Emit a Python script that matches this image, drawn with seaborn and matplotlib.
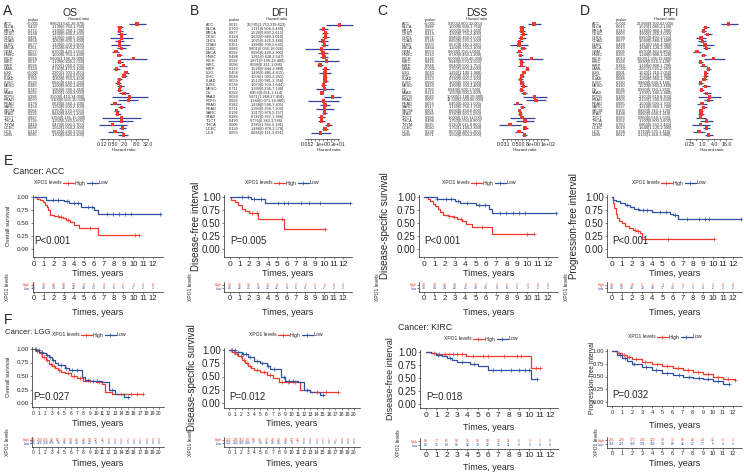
import numpy as np
import pandas as pd
import matplotlib
matplotlib.use("Agg")
import matplotlib.pyplot as plt
import seaborn as sns
from matplotlib import transforms
from matplotlib.lines import Line2D
from matplotlib.ticker import FixedLocator, NullFormatter

sns.set_theme(style="white")
plt.rcParams['font.family'] = ['Liberation Sans', 'DejaVu Sans']

RED = '#ee3a2c'
BLUE = '#2f4fa2'
NAVY = '#34449a'
W, H = 744, 475

# ---------------- forest plot data ----------------
cancers33 = ['ACC', 'BLCA', 'BRCA', 'CESC', 'CHOL', 'COAD', 'DLBC', 'ESCA', 'GBM', 'HNSC', 'KICH',
             'KIRC', 'KIRP', 'LAML', 'LGG', 'LIHC', 'LUAD', 'LUSC', 'MESO', 'OV', 'PAAD', 'PCPG',
             'PRAD', 'READ', 'SARC', 'SKCM', 'STAD', 'TGCT', 'THCA', 'THYM', 'UCEC', 'UCS', 'UVM']
cancers_dfi = ['ACC', 'BLCA', 'BRCA', 'CESC', 'CHOL', 'COAD', 'DLBC', 'ESCA', 'HNSC', 'KICH', 'KIRC',
               'KIRP', 'LGG', 'LIHC', 'LUAD', 'LUSC', 'MESO', 'OV', 'PAAD', 'PCPG', 'PRAD', 'READ',
               'SARC', 'STAD', 'TGCT', 'THCA', 'UCEC', 'UCS']

os_p = ['<0.001', '0.430', '0.372', '0.168', '0.491', '0.854', '0.677', '0.251', '0.077', '0.893', '0.034',
        '0.537', '0.036', '0.124', '<0.001', '0.001', '0.793', '0.529', '0.385', '0.747', '0.032', '0.286',
        '0.070', '0.176', '0.156', '0.061', '0.232', '0.827', '0.739', '0.410', '0.038', '0.210', '0.095']
os_hr = [8.962, 1.130, 1.100, 1.400, 1.400, 1.050, 1.100, 1.350, 0.700, 1.000, 5.600, 1.100, 1.700,
         0.730, 2.300, 1.800, 1.050, 0.920, 1.200, 1.050, 1.800, 3.500, 3.100, 0.620, 1.350, 0.750,
         0.820, 1.350, 1.350, 0.470, 1.550, 0.620, 1.700]
os_lo = [3.541, 0.750, 0.760, 0.800, 0.340, 0.600, 0.370, 0.800, 0.420, 0.750, 1.100, 0.800, 1.050,
         0.470, 1.700, 1.350, 0.750, 0.640, 0.800, 0.760, 1.050, 0.410, 0.930, 0.340, 0.900, 0.570,
         0.600, 0.125, 0.280, 0.090, 1.050, 0.280, 0.920]
os_hi = [26.870, 1.700, 1.700, 2.300, 5.200, 1.800, 3.800, 2.300, 1.050, 1.400, 28.000, 1.550, 2.700,
         1.100, 3.200, 2.500, 1.450, 1.300, 1.800, 1.450, 3.500, 34.000, 10.300, 1.200, 2.100, 1.050,
         1.200, 15.000, 5.600, 2.700, 2.300, 1.550, 3.100]

dfi_p = ['0.015', '0.760', '0.877', '0.124', '0.941', '0.351', '0.886', '0.992', '0.488', '0.592', '0.096',
         '0.113', '0.456', '0.049', '0.059', '0.739', '0.711', '0.222', '0.024', '0.926', '0.382', '0.711',
         '0.192', '0.286', '0.490', '0.005', '0.139', '0.655']
dfi_hr = [20.585, 1.111, 1.528, 1.632, 1.025, 1.398, 0.801, 0.996, 1.261, 1.871, 0.598, 1.526, 1.495,
          1.506, 1.512, 1.073, 1.399, 0.852, 5.871, 1.160, 1.458, 1.393, 1.317, 0.742, 0.776, 2.789,
          1.496, 0.665]
dfi_lo = [1.753, 0.504, 0.893, 0.880, 0.425, 0.708, 0.036, 0.428, 0.628, 0.199, 0.321, 0.844, 0.485,
          1.003, 0.981, 0.704, 0.296, 0.651, 1.268, 0.071, 0.596, 0.269, 0.879, 0.397, 0.383, 1.392,
          0.878, 0.111]
dfi_hi = [239.623, 2.449, 2.612, 3.019, 2.460, 2.645, 18.026, 2.300, 2.547, 19.400, 1.096, 2.988,
          4.615, 2.261, 2.356, 1.644, 7.140, 1.114, 27.456, 18.900, 3.435, 7.209, 2.157, 1.388, 1.586,
          5.181, 2.578, 3.991]

dss_p = ['<0.001', '0.989', '0.997', '0.419', '0.871', '0.149', '0.503', '0.464', '0.079', '0.210', '0.145',
         '0.819', '0.848', '<0.001', '0.010', '0.990', '0.113', '0.996', '0.423', '0.793', '0.114', '0.045',
         '0.007', '0.058', '0.517', '0.001', '0.089', '0.996', '0.498', '0.035', '0.020', '0.136', '0.071']
dss_hr = [9.300, 1.000, 1.000, 1.300, 0.940, 0.650, 0.570, 1.200, 0.600, 0.730, 6.000, 0.940, 0.940,
          2.700, 1.450, 1.000, 0.730, 1.000, 1.300, 0.940, 1.550, 10.000, 13.500, 0.450, 1.150, 0.600,
          0.730, 1.000, 1.750, 0.110, 1.750, 0.570, 1.550]
dss_lo = [2.900, 0.600, 0.620, 0.730, 0.450, 0.370, 0.110, 0.730, 0.350, 0.450, 0.500, 0.570, 0.500,
          1.800, 1.100, 0.700, 0.500, 0.700, 0.700, 0.600, 0.900, 1.100, 2.000, 0.200, 0.750, 0.450,
          0.500, 0.110, 0.350, 0.015, 1.100, 0.280, 0.950]
dss_hi = [32.000, 1.750, 1.650, 2.400, 2.000, 1.200, 3.200, 2.100, 1.060, 1.200, 46.000, 1.550, 1.750,
          4.000, 1.900, 1.500, 1.100, 1.500, 2.400, 1.500, 2.600, 95.000, 90.000, 1.000, 1.750, 0.800,
          1.050, 11.000, 8.800, 0.800, 2.800, 1.200, 2.500]

pfi_p = ['<0.001', '0.015', '0.343', '0.003', '0.699', '0.877', '0.469', '0.010', '0.006', '0.255', '0.014',
         '0.224', '0.389', '<0.001', '0.001', '0.002', '0.088', '0.330', '0.110', '0.641', '0.023', '0.180',
         '0.003', '0.985', '0.227', '0.303', '0.448', '0.583', '0.252', '0.750', '0.019', '0.166', '0.012']
pfi_hr = [20.990, 1.520, 1.160, 1.900, 0.890, 1.040, 1.410, 1.640, 0.570, 1.160, 3.600, 0.830, 1.160,
          2.050, 1.520, 1.520, 1.260, 0.860, 1.520, 0.930, 1.700, 2.300, 2.130, 1.000, 1.210, 0.890,
          0.890, 0.860, 1.700, 0.860, 1.640, 0.710, 2.130]
pfi_lo = [8.300, 1.080, 0.860, 1.250, 0.490, 0.660, 0.550, 1.120, 0.360, 0.890, 1.300, 0.610, 0.800,
          1.520, 1.210, 1.120, 0.960, 0.630, 0.960, 0.710, 1.160, 0.610, 1.300, 0.590, 0.860, 0.710,
          0.660, 0.510, 0.800, 0.330, 1.120, 0.370, 1.410]
pfi_hi = [62.000, 2.130, 1.580, 3.000, 1.520, 1.580, 4.060, 2.390, 0.860, 1.520, 13.600, 1.120, 1.700,
          2.780, 2.050, 1.900, 1.700, 1.160, 2.480, 1.260, 2.680, 8.300, 3.600, 1.700, 1.700, 1.120,
          1.210, 1.520, 3.600, 2.480, 2.390, 1.410, 3.360]

# ---------------- KM data (ACC) ----------------
acc_os_hi_t = [0, 0.3, 0.6, 0.9, 1.1, 1.3, 1.45, 1.6, 2.0, 2.5, 2.9, 3.2, 3.6, 4.0, 4.5, 6.5, 10.6]
acc_os_hi_s = [1.0, 0.97, 0.94, 0.90, 0.85, 0.80, 0.75, 0.66, 0.64, 0.62, 0.59, 0.56, 0.52, 0.47, 0.40, 0.27, 0.27]
acc_os_hi_c = [2.4, 2.7, 3.4, 5.6, 10.2, 10.6]
acc_os_lo_t = [0, 1.2, 3.0, 3.5, 4.7, 6.0, 6.5, 12.8]
acc_os_lo_s = [1.0, 0.95, 0.93, 0.88, 0.81, 0.75, 0.67, 0.67]
acc_os_lo_c = [1.9, 2.4, 3.3, 4.0, 4.4, 5.4, 5.8, 7.4, 8.0, 8.6, 9.2, 9.8, 12.7]

acc_dfi_hi_t = [0, 0.15, 0.5, 0.9, 1.3, 1.6, 2.0, 3.0, 5.7, 10.1]
acc_dfi_hi_s = [1.0, 0.95, 0.90, 0.84, 0.77, 0.73, 0.69, 0.58, 0.39, 0.39]
acc_dfi_hi_c = [2.3, 2.9, 5.5, 10.1]
acc_dfi_lo_t = [0, 2.2, 3.7, 12.7]
acc_dfi_lo_s = [1.0, 0.96, 0.88, 0.88]
acc_dfi_lo_c = [1.3, 1.9, 2.6, 3.3, 5.1, 5.7, 6.2, 7.5, 8.4, 9.6, 12.7]

acc_dss_hi_t = [0, 0.35, 0.6, 0.9, 1.1, 1.35, 1.55, 1.8, 2.3, 2.8, 3.2, 3.7, 4.1, 4.6, 6.6, 10.6]
acc_dss_hi_s = [1.0, 0.96, 0.92, 0.87, 0.82, 0.77, 0.71, 0.66, 0.64, 0.61, 0.57, 0.53, 0.49, 0.42, 0.28, 0.28]
acc_dss_hi_c = [2.4, 2.9, 3.6, 5.6, 10.0, 10.6]
acc_dss_lo_t = [0, 1.3, 3.0, 3.5, 5.0, 6.3, 6.6, 12.8]
acc_dss_lo_s = [1.0, 0.96, 0.93, 0.89, 0.85, 0.77, 0.70, 0.70]
acc_dss_lo_c = [1.3, 2.1, 2.6, 3.3, 4.2, 5.3, 5.9, 7.4, 7.9, 8.6, 9.2, 9.8, 12.8]

acc_pfi_hi_t = [0, 0.1, 0.2, 0.35, 0.5, 0.7, 1.0, 1.3, 1.7, 2.1, 2.4, 2.8, 3.0, 10.1]
acc_pfi_hi_s = [1.0, 0.88, 0.78, 0.68, 0.60, 0.54, 0.50, 0.45, 0.40, 0.37, 0.35, 0.30, 0.20, 0.20]
acc_pfi_hi_c = [2.3, 2.6, 5.6, 10.1]
acc_pfi_lo_t = [0, 0.1, 0.4, 0.8, 1.3, 1.8, 2.2, 2.7, 4.0, 5.8, 6.0, 6.5, 12.8]
acc_pfi_lo_s = [1.0, 0.95, 0.92, 0.89, 0.85, 0.80, 0.77, 0.75, 0.71, 0.68, 0.65, 0.57, 0.57]
acc_pfi_lo_c = [1.5, 2.6, 3.1, 3.5, 4.8, 5.4, 6.2, 7.4, 8.6, 9.2, 9.6, 12.8]

# ---------------- KM data (LGG, KIRC) ----------------
lgg_os_hi_t = [0, 0.5, 1, 1.5, 2, 2.5, 3, 3.5, 4, 4.5, 5, 6, 7, 8, 10, 11, 11.5, 12.5, 13.5, 17.5]
lgg_os_hi_s = [1.0, 0.96, 0.92, 0.86, 0.80, 0.73, 0.68, 0.65, 0.62, 0.58, 0.55, 0.50, 0.46, 0.40, 0.38,
               0.35, 0.20, 0.17, 0.16, 0.16]
lgg_os_hi_c = [0.3, 0.7, 1.2, 1.8, 2.3, 2.8, 3.3, 4.2, 5.5, 6.5, 7.5, 9.0, 10.5, 14.0, 15.5, 16.5, 17.5]
lgg_os_lo_t = [0, 0.5, 1, 1.5, 2, 2.5, 3, 3.5, 4, 5, 5.7, 7.7, 8.3, 9, 11, 12, 13, 14.5, 15.2]
lgg_os_lo_s = [1.0, 0.98, 0.95, 0.92, 0.89, 0.85, 0.80, 0.74, 0.70, 0.65, 0.62, 0.48, 0.42, 0.40, 0.38,
               0.25, 0.17, 0.12, 0.12]
lgg_os_lo_c = [0.4, 0.9, 1.4, 2.2, 2.7, 3.2, 4.5, 5.2, 6.2, 7.0, 8.8, 9.5, 10.2, 12.5, 15.0]

lgg_dss_hi_t = [0, 0.5, 1, 1.5, 2, 2.5, 3, 3.5, 4, 5, 6, 7, 8, 11.3, 13, 17.5]
lgg_dss_hi_s = [1.0, 0.97, 0.93, 0.88, 0.82, 0.75, 0.70, 0.66, 0.63, 0.58, 0.53, 0.47, 0.40, 0.25, 0.20, 0.20]
lgg_dss_hi_c = [0.3, 0.8, 1.3, 1.9, 2.4, 2.9, 3.4, 4.4, 5.6, 6.6, 8.5, 9.5, 10.5, 14.0, 15.5, 17.5]
lgg_dss_lo_t = [0, 1, 2, 3, 4, 5, 6, 6.5, 8.3, 9.0, 11, 12, 13, 14.5, 15.2]
lgg_dss_lo_s = [1.0, 0.96, 0.92, 0.86, 0.80, 0.76, 0.70, 0.65, 0.50, 0.42, 0.40, 0.25, 0.20, 0.15, 0.15]
lgg_dss_lo_c = [0.4, 0.9, 1.5, 2.2, 2.7, 3.4, 4.5, 5.3, 6.2, 7.2, 8.8, 9.6, 10.3, 12.5, 15.0]

kirc_dfi_hi_t = [0, 0.5, 1.0, 1.5, 3.9, 10.2, 11.0]
kirc_dfi_hi_s = [1.0, 0.98, 0.97, 0.96, 0.93, 0.70, 0.70]
kirc_dfi_hi_c = [0.8, 1.3, 1.8, 2.2, 2.6, 3.0, 3.5, 4.5, 5.5, 6.0, 7.5, 8.8, 9.2, 10.6, 11.0]
kirc_dfi_lo_t = [0, 0.5, 1.0, 1.5, 2.0, 2.5, 3.0, 4.3, 5.0, 6.0, 10.2, 10.7]
kirc_dfi_lo_s = [1.0, 0.98, 0.95, 0.93, 0.88, 0.84, 0.80, 0.77, 0.73, 0.66, 0.49, 0.49]
kirc_dfi_lo_c = [1.2, 2.3, 3.5, 4.6, 6.5, 7.3, 8.2, 9.0, 9.6, 10.0, 10.7]

kirc_pfi_hi_t = [0, 0.5, 1, 1.5, 2, 3, 4, 5, 6, 7, 8, 9, 10, 11, 12.2]
kirc_pfi_hi_s = [1.0, 0.96, 0.92, 0.88, 0.85, 0.79, 0.74, 0.70, 0.66, 0.62, 0.58, 0.54, 0.50, 0.45, 0.43]
kirc_pfi_hi_c = [0.7, 1.2, 1.7, 2.4, 3.3, 4.5, 5.5, 6.5, 7.5, 8.5, 9.5, 10.5, 11.5, 12.2]
kirc_pfi_lo_t = [0, 0.5, 1, 1.5, 2, 3, 4, 5, 6, 7, 8, 9, 10, 11, 11.6]
kirc_pfi_lo_s = [1.0, 0.93, 0.86, 0.80, 0.75, 0.68, 0.62, 0.57, 0.53, 0.50, 0.47, 0.45, 0.42, 0.35, 0.35]
kirc_pfi_lo_c = [0.8, 1.3, 2.2, 3.4, 4.4, 5.5, 6.6, 7.6, 8.6, 9.5, 10.5, 11.6]

# ---------------- risk tables ----------------
acc_os_n_hi = [39, 34, 23, 18, 12, 9, 6, 3, 2, 2, 1, 0, 0]
acc_os_n_lo = [40, 38, 34, 28, 22, 18, 13, 9, 6, 5, 3, 2, 1]
acc_dfi_n_hi = [20, 16, 14, 9, 6, 4, 2, 2, 2, 2, 1, 0, 0]
acc_dfi_n_lo = [23, 22, 21, 16, 12, 12, 8, 6, 4, 3, 2, 2, 2]
acc_dss_n_hi = [38, 34, 23, 18, 8, 6, 3, 2, 2, 2, 2, 0, 0]
acc_dss_n_lo = [38, 38, 34, 28, 21, 19, 15, 8, 6, 5, 3, 2, 2]
acc_pfi_n_hi = [38, 24, 15, 5, 3, 3, 2, 1, 1, 1, 1, 0, 0]
acc_pfi_n_lo = [40, 35, 28, 23, 19, 17, 13, 7, 5, 4, 2, 2, 2]
lgg_os_n_hi = [256, 209, 155, 92, 62, 46, 38, 26, 22, 18, 12, 11, 8, 4, 3, 2, 1, 1, 0, 0, 0]
lgg_os_n_lo = [255, 226, 168, 105, 78, 55, 44, 29, 20, 12, 9, 7, 6, 4, 2, 1, 0, 0, 0, 0, 0]
lgg_dss_n_hi = [252, 206, 152, 90, 60, 45, 37, 26, 22, 18, 12, 11, 8, 4, 3, 2, 1, 1, 0, 0, 0]
lgg_dss_n_lo = [254, 224, 166, 104, 77, 54, 43, 29, 20, 12, 9, 7, 6, 4, 2, 1, 0, 0, 0, 0, 0]
kirc_dfi_n_hi = [88, 77, 65, 50, 36, 26, 18, 12, 11, 6, 3, 1, 0]
kirc_dfi_n_lo = [88, 75, 64, 56, 42, 34, 22, 16, 11, 8, 5, 0, 0]
kirc_pfi_n_hi = [265, 229, 173, 145, 120, 90, 72, 50, 32, 20, 12, 6, 2]
kirc_pfi_n_lo = [265, 221, 166, 131, 102, 78, 60, 42, 27, 17, 9, 4, 1]

fig = plt.figure(figsize=(7.44, 4.75), dpi=100)


def box(x0, y0, x1, y1):
    return [x0 / W, 1 - y1 / H, (x1 - x0) / W, (y1 - y0) / H]


def ftext(x, y, s, **kw):
    fig.text(x / W, 1 - y / H, s, **kw)


def forest(names, pvals, hr, lo, hi, ax_x, row_y, one_px, px_per, ticks, tlabels, bounds,
           col_name, col_p, col_hr, hr_head, title, title_x, letter, letter_x):
    y0, y1 = 20, 139
    n = len(names)
    r = (row_y[1] - row_y[0]) / (n - 1)
    ax = fig.add_axes(box(ax_x[0], y0, ax_x[1], y1))
    df = pd.DataFrame(dict(row=np.arange(n), hr=hr, lo=lo, hi=hi))
    ax.hlines(df['row'], df['lo'], df['hi'], color=NAVY, lw=0.9)
    sns.scatterplot(data=df, x='hr', y='row', marker='s', s=6, color=RED,
                    edgecolor='none', ax=ax, zorder=3)
    ax.set_xscale('log', base=2)
    ax.set_xlim(2 ** ((ax_x[0] - one_px) / px_per), 2 ** ((ax_x[1] - one_px) / px_per))
    ax.set_ylim((n - 1) + (y1 - row_y[1]) / r, -(row_y[0] - y0) / r)
    for s in ['left', 'right', 'top']:
        ax.spines[s].set_visible(False)
    ax.spines['bottom'].set_bounds(bounds[0], bounds[1])
    ax.spines['bottom'].set_linewidth(0.5)
    ax.spines['bottom'].set_color('#333333')
    ax.set_yticks([])
    ax.xaxis.set_major_locator(FixedLocator(ticks))
    ax.set_xticklabels(tlabels)
    lo_k = int(np.ceil(np.log2(bounds[0])))
    hi_k = int(np.floor(np.log2(bounds[1])))
    ax.xaxis.set_minor_locator(FixedLocator([2.0 ** k for k in range(lo_k, hi_k + 1)]))
    ax.xaxis.set_minor_formatter(NullFormatter())
    ax.tick_params(axis='x', which='both', bottom=True, length=1.6, width=0.4, pad=0.8,
                   labelsize=3.8, color='#333333')
    ax.set_xlabel('Hazard ratio', fontsize=3.2, labelpad=0.8)
    ax.set_ylabel('')
    tr = transforms.blended_transform_factory(fig.transFigure, ax.transData)
    for i in range(n):
        ax.text(col_name / W, i, names[i], transform=tr, fontsize=2.8, ha='left', va='center')
        ax.text(col_p / W, i, pvals[i], transform=tr, fontsize=2.8, ha='center', va='center')
        ax.text(col_hr / W, i, f'{hr[i]:.3f}({lo[i]:.3f}-{hi[i]:.3f})', transform=tr,
                fontsize=2.8, ha='center', va='center')
    ftext(col_p, 19.5, 'pvalue', fontsize=2.8, ha='center', va='center')
    ftext(hr_head, 19, 'Hazard ratio', fontsize=2.8, ha='center', va='center')
    ftext(title_x, 13, title, fontsize=7.5, ha='center', va='center')
    ftext(letter_x, 11, letter, fontsize=10, ha='left', va='center')


forest(cancers33, os_p, os_hr, os_lo, os_hi, (96, 152), (24, 135), 119, 5.75,
       [0.125, 0.5, 2, 8, 32], ['0.12', '0.50', '2.0', '8.0', '32.0'], (0.1, 35),
       3.5, 33, 68, 78, 'OS', 70, 'A', 3)
forest(cancers_dfi, dfi_p, dfi_hr, dfi_lo, dfi_hi, (300, 358), (25, 133), 322.9, 3.83,
       [2 ** -4, 1, 16], ['0.062', '1e+00', '2e+01'], (2 ** -4.6, 2 ** 4.2),
       206, 234, 267, 276, 'DFI', 280, 'B', 190)
forest(cancers33, dss_p, dss_hr, dss_lo, dss_hi, (497, 552), (24, 135), 522, 3.73,
       [2 ** -5, 0.5, 8, 128], ['0.031', '0.500', '8e+00', '1e+02'], (2 ** -5.3, 2 ** 7.1),
       402, 430, 465, 476, 'DSS', 477, 'C', 377)
forest(cancers33, pfi_p, pfi_hr, pfi_lo, pfi_hi, (683, 741), (24, 135), 702, 6.1,
       [0.25, 1, 4, 16], ['0.25', '1.0', '4.0', '16.0'], (2 ** -2.6, 2 ** 4.9),
       592, 621, 655, 664, 'PFI', 670, 'D', 580)


# ---------------- Kaplan-Meier panels ----------------
def km(bx, x0px, xend_px, tend, y1px, y0px, curves, xmax, ylabel, ylab_x, fs_y, fs_x,
       fs_ylab, ptxt, p_s, leg_x, leg_y, lab_y):
    ax = fig.add_axes(box(*bx))
    ppy = (xend_px - x0px) / tend
    ppu = y0px - y1px
    ax.set_xlim((bx[0] - x0px) / ppy, (bx[2] - x0px) / ppy)
    ax.set_ylim(-(bx[3] - y0px) / ppu, 1 + (y1px - bx[1]) / ppu)
    for t, s, c, col in curves:
        sns.lineplot(x=t, y=s, drawstyle='steps-post', color=col, lw=0.9, ax=ax,
                     estimator=None, sort=False)
        t_arr = np.array(t)
        cy = [s[np.searchsorted(t_arr, ci, side='right') - 1] for ci in c]
        sns.scatterplot(x=c, y=cy, marker='+', s=7, color=col, linewidth=0.5, ax=ax, zorder=3)
    ax.set_xticks(list(range(0, xmax + 1)))
    ax.set_yticks([0, 0.25, 0.5, 0.75, 1.0])
    ax.set_yticklabels(['0.00', '0.25', '0.50', '0.75', '1.00'])
    for s in ['right', 'top']:
        ax.spines[s].set_visible(False)
    for s in ['left', 'bottom']:
        ax.spines[s].set_linewidth(0.5)
        ax.spines[s].set_color('#222222')
    ax.tick_params(axis='y', labelsize=fs_y, length=1.6, width=0.4, pad=0.8, left=True)
    ax.tick_params(axis='x', labelsize=fs_x, length=1.6, width=0.4, pad=1.0, bottom=True)
    ax.set_ylabel(ylabel, fontsize=fs_ylab)
    ax.yaxis.set_label_coords((ylab_x - bx[0]) / (bx[2] - bx[0]), 0.5)
    ax.yaxis.label.set_va('center')
    ax.set_xlabel('Times, years', fontsize=6.5)
    ax.xaxis.set_label_coords(0.5, -(lab_y - bx[3]) / (bx[3] - bx[1]))
    ax.xaxis.label.set_va('center')
    ax.text(0, p_s, ptxt, fontsize=7, ha='left', va='center')
    ftext(leg_x, leg_y, 'XPO1 levels', fontsize=3.6, ha='right', va='center')
    handles = [Line2D([], [], color=RED, marker='+', lw=0.9, ms=2.5, mew=0.5),
               Line2D([], [], color=BLUE, marker='+', lw=0.9, ms=2.5, mew=0.5)]
    fig.legend(handles, ['High', 'Low'], loc='center left',
               bbox_to_anchor=((leg_x + 1) / W, 1 - leg_y / H),
               ncol=2, frameon=False, fontsize=3.8, handlelength=2.0, handletextpad=0.2,
               columnspacing=0.3, borderpad=0, borderaxespad=0)
    return ax


def risk(bx, x0px, xend_px, tend, xmax, n_hi, n_lo, fs_x, ylab_x, lab_y):
    ax = fig.add_axes(box(*bx))
    ppy = (xend_px - x0px) / tend
    ax.set_xlim((bx[0] - x0px) / ppy, (bx[2] - x0px) / ppy)
    ax.set_ylim(-1.0, 1.8)
    yrs = list(range(len(n_hi)))
    for t, a, b in zip(yrs, n_hi, n_lo):
        ax.text(t, 1, str(a), color=RED, fontsize=2.4, ha='center', va='center')
        ax.text(t, 0, str(b), color=BLUE, fontsize=2.4, ha='center', va='center')
    ax.set_yticks([1, 0])
    ax.set_yticklabels(['High', 'Low'])
    for lab, col in zip(ax.get_yticklabels(), [RED, BLUE]):
        lab.set_color(col)
    ax.set_xticks(list(range(0, xmax + 1)))
    for s in ['right', 'top']:
        ax.spines[s].set_visible(False)
    for s in ['left', 'bottom']:
        ax.spines[s].set_linewidth(0.5)
        ax.spines[s].set_color('#222222')
    ax.tick_params(axis='y', labelsize=2.4, length=1.2, width=0.4, pad=0.6, left=True)
    ax.tick_params(axis='x', labelsize=fs_x, length=1.4, width=0.4, pad=1.0, bottom=True)
    ax.set_ylabel('XPO1 levels', fontsize=3.6)
    ax.yaxis.set_label_coords((ylab_x - bx[0]) / (bx[2] - bx[0]), 0.5)
    ax.yaxis.label.set_va('center')
    ax.set_xlabel('Times, years', fontsize=6.5)
    ax.xaxis.set_label_coords(0.5, -(lab_y - bx[3]) / (bx[3] - bx[1]))
    ax.xaxis.label.set_va('center')


# Row E: ACC
ftext(4, 161, 'E', fontsize=10, ha='left', va='center')
ftext(13, 172, 'Cancer: ACC', fontsize=6.3, ha='left', va='center')

km((32.5, 195, 163, 257), 34, 153, 12, 197, 249,
   [(acc_os_hi_t, acc_os_hi_s, acc_os_hi_c, RED), (acc_os_lo_t, acc_os_lo_s, acc_os_lo_c, BLUE)],
   12, 'Overall survival', 9, 4.5, 5.5, 4.2, 'P<0.001', 0.16, 62, 183, 273)
risk((32.5, 282, 163, 292), 34, 153, 12, 12, acc_os_n_hi, acc_os_n_lo, 5.5, 8, 312)

km((224, 195, 352, 257), 230, 343, 12, 197, 249,
   [(acc_dfi_hi_t, acc_dfi_hi_s, acc_dfi_hi_c, RED), (acc_dfi_lo_t, acc_dfi_lo_s, acc_dfi_lo_c, BLUE)],
   12, 'Disease-free interval', 196, 7, 6, 7, 'P=0.005', 0.16, 273, 183, 273)
risk((224, 282, 352, 292), 230, 343, 12, 12, acc_dfi_n_hi, acc_dfi_n_lo, 5.5, 190, 312)

km((419, 195, 558, 257), 424, 548, 12, 197, 249,
   [(acc_dss_hi_t, acc_dss_hi_s, acc_dss_hi_c, RED), (acc_dss_lo_t, acc_dss_lo_s, acc_dss_lo_c, BLUE)],
   12, 'Disease-specific survival', 385, 7, 6, 7, 'P<0.001', 0.16, 470, 183, 273)
risk((419, 282, 558, 292), 424, 548, 12, 12, acc_dss_n_hi, acc_dss_n_lo, 5.5, 377, 312)

km((607, 195, 742, 257), 612, 733, 12, 197, 249,
   [(acc_pfi_hi_t, acc_pfi_hi_s, acc_pfi_hi_c, RED), (acc_pfi_lo_t, acc_pfi_lo_s, acc_pfi_lo_c, BLUE)],
   12, 'Progression-free interval', 574, 7, 6, 7, 'P<0.001', 0.16, 660, 183, 273)
risk((607, 282, 742, 292), 612, 733, 12, 12, acc_pfi_n_hi, acc_pfi_n_lo, 5.5, 567, 312)

# Row F: LGG and KIRC
ftext(4, 320, 'F', fontsize=10, ha='left', va='center')
ftext(5, 333, 'Cancer: LGG', fontsize=5.6, ha='left', va='center')
ftext(398, 328, 'Cancer: KIRC', fontsize=6.3, ha='left', va='center')

km((32, 347, 164, 407), 33, 159, 20, 349, 403,
   [(lgg_os_hi_t, lgg_os_hi_s, lgg_os_hi_c, RED), (lgg_os_lo_t, lgg_os_lo_s, lgg_os_lo_c, BLUE)],
   20, 'Overall survival', 9, 4.5, 3.5, 4.2, 'P=0.027', 0.11, 80, 335, 424)
risk((32, 437, 164, 447), 33, 159, 20, 20, lgg_os_n_hi, lgg_os_n_lo, 3.5, 8, 463)

km((224, 348, 360, 408), 229, 354, 20, 350, 403,
   [(lgg_dss_hi_t, lgg_dss_hi_s, lgg_dss_hi_c, RED), (lgg_dss_lo_t, lgg_dss_lo_s, lgg_dss_lo_c, BLUE)],
   20, 'Disease-specific survival', 192, 7, 3.5, 7, 'P=0.012', 0.11, 277, 335, 424)
risk((224, 437, 360, 447), 229, 354, 20, 20, lgg_dss_n_hi, lgg_dss_n_lo, 3.5, 190, 464)

km((420, 350, 558, 408), 426, 550, 12, 352, 404,
   [(kirc_dfi_hi_t, kirc_dfi_hi_s, kirc_dfi_hi_c, RED), (kirc_dfi_lo_t, kirc_dfi_lo_s, kirc_dfi_lo_c, BLUE)],
   12, 'Disease-free interval', 390, 7, 6, 6.5, 'P=0.018', 0.14, 472, 339, 428)
risk((420, 438, 558, 449), 426, 550, 12, 12, kirc_dfi_n_hi, kirc_dfi_n_lo, 6, 398, 468)

km((607, 349, 742, 406), 612, 733, 12, 351, 402,
   [(kirc_pfi_hi_t, kirc_pfi_hi_s, kirc_pfi_hi_c, RED), (kirc_pfi_lo_t, kirc_pfi_lo_s, kirc_pfi_lo_c, BLUE)],
   12, 'Progression-free interval', 593, 4.2, 4, 4.8, 'P=0.032', 0.13, 656, 337, 425)
risk((607, 437, 742, 448), 612, 733, 12, 12, kirc_pfi_n_hi, kirc_pfi_n_lo, 4, 596, 463)

fig.savefig('out.png', dpi=100)
